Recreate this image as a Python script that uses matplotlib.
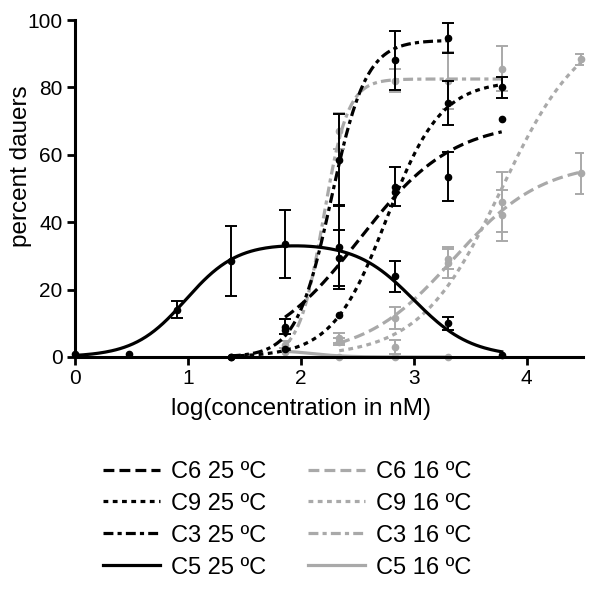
import numpy as np
import matplotlib
matplotlib.use('Agg')
import matplotlib.pyplot as plt

plt.rcParams['font.family'] = ['Liberation Sans', 'DejaVu Sans']

# log10 of concentration (nM) for each series
x_c6_25 = [1.86, 2.34, 2.83, 3.30, 3.78]
x_c9_25 = [1.38, 1.86, 2.34, 2.83, 3.30, 3.78]
x_c3_25 = [1.38, 1.86, 2.34, 2.83, 3.30]
x_c5_25 = [0.0, 0.48, 0.90, 1.38, 1.86, 2.34, 2.83, 3.30, 3.78]
x_c6_16 = [2.34, 2.83, 3.30, 3.78, 4.48]
x_c9_16 = [2.34, 2.83, 3.30, 3.78, 4.48]
x_c3_16 = [1.86, 2.34, 2.83, 3.30, 3.78]
x_c5_16 = [1.86, 2.34, 2.83, 3.30]

# percent dauers (mean) and error (0 = no bar)
y_c6_25 = [9.0, 29.4, 50.5, 53.5, 70.6]
e_c6_25 = [2.2, 8.3, 5.8, 7.3, 0]
y_c9_25 = [0.0, 2.5, 12.5, 49.0, 75.4, 80.0]
e_c9_25 = [0, 0, 0, 0, 6.5, 3.0]
y_c3_25 = [0.0, 8.0, 58.5, 88.0, 94.7]
e_c3_25 = [0, 0, 13.5, 8.7, 4.5]
y_c5_25 = [0.8, 1.0, 14.0, 28.5, 33.5, 32.6, 24.0, 10.0, 0.5]
e_c5_25 = [0, 0, 2.5, 10.5, 10.0, 12.3, 4.6, 2.0, 0]
y_c6_16 = [5.6, 11.5, 28.0, 42.0, 54.5]
e_c6_16 = [1.5, 3.2, 4.5, 7.5, 6.0]
y_c9_16 = [4.5, 3.0, 29.0, 46.0, 88.4]
e_c9_16 = [1.0, 2.0, 3.0, 9.0, 1.6]
y_c3_16 = [3.6, 67.0, 82.0, 82.0, 85.5]
e_c3_16 = [1.0, 5.4, 3.5, 8.5, 6.7]
y_c5_16 = [1.5, 0.0, 0.0, 0.0]
e_c5_16 = [0, 0, 0, 0]

# sigmoidal fit parameters: bottom, top, logEC50, hill
fit_c6_25 = (0, 70, 2.52, 1.05)
fit_c9_25 = (0, 82, 2.76, 1.8)
fit_c3_25 = (0, 94, 2.27, 2.8)
fit_c6_16 = (0, 58, 3.35, 1.1)
fit_c9_16 = (0, 100, 3.78, 1.2)
fit_c3_16 = (0, 82.5, 2.2, 4.0)
fit_c5_16 = (0, 2.0, 2.1, -3.0)
# bell shaped fit for C5 25: top, logEC50 up, hill up, logEC50 down, hill down
fit_c5_25 = (34, 0.98, 1.9, 3.0, 1.7)


def sigmoid(x, p):
    b, t, ec, h = p
    return b + (t - b) / (1 + 10 ** ((ec - x) * h))


def bell(x, p):
    t, ec1, h1, ec2, h2 = p
    return t / (1 + 10 ** ((ec1 - x) * h1)) / (1 + 10 ** ((x - ec2) * h2))


black = 'black'
grey = '#a9a9a9'
lw = 2.3
long_dash = (0, (3.4, 1.6))
short_dot = (0, (1.5, 1.4))
dash_dot = (0, (3.1, 1.3, 1.3, 1.3))

fig = plt.figure(figsize=(6.01, 5.90), dpi=100)
ax = fig.add_axes([0.125, 0.395, 0.845, 0.571])


def draw(xs, ys, es, fit, color, ls, label, bellfit=False, z=2):
    xs = np.array(xs)
    ys = np.array(ys)
    es = np.array(es)
    xx = np.linspace(xs.min(), xs.max(), 200)
    yy = bell(xx, fit) if bellfit else sigmoid(xx, fit)
    line, = ax.plot(xx, yy, color=color, ls=ls, lw=lw, label=label, zorder=z,
                    clip_on=False)
    ax.plot(xs, ys, 'o', color=color, ms=4.5, zorder=z + 0.5, clip_on=False)
    m = es > 0
    ax.errorbar(xs[m], ys[m], yerr=es[m], fmt='none', ecolor=color,
                elinewidth=1.4, capsize=4.3, capthick=1.4, zorder=z + 0.5)
    return line


h16 = [
    draw(x_c6_16, y_c6_16, e_c6_16, fit_c6_16, grey, long_dash, 'C6 16 \u00baC', z=2),
    draw(x_c9_16, y_c9_16, e_c9_16, fit_c9_16, grey, short_dot, 'C9 16 \u00baC', z=2),
    draw(x_c3_16, y_c3_16, e_c3_16, fit_c3_16, grey, dash_dot, 'C3 16 \u00baC', z=2),
    draw(x_c5_16, y_c5_16, e_c5_16, fit_c5_16, grey, '-', 'C5 16 \u00baC', z=2),
]
h25 = [
    draw(x_c6_25, y_c6_25, e_c6_25, fit_c6_25, black, long_dash, 'C6 25 \u00baC', z=4),
    draw(x_c9_25, y_c9_25, e_c9_25, fit_c9_25, black, short_dot, 'C9 25 \u00baC', z=4),
    draw(x_c3_25, y_c3_25, e_c3_25, fit_c3_25, black, dash_dot, 'C3 25 \u00baC', z=4),
    draw(x_c5_25, y_c5_25, e_c5_25, fit_c5_25, black, '-', 'C5 25 \u00baC', bellfit=True, z=4),
]

ax.set_xlim(0, 4.5)
ax.set_ylim(0, 100)
ax.set_xticks([0, 1, 2, 3, 4])
ax.set_yticks([0, 20, 40, 60, 80, 100])
for s in ['top', 'right']:
    ax.spines[s].set_visible(False)
for s in ['left', 'bottom']:
    ax.spines[s].set_linewidth(2.2)
ax.tick_params(direction='out', length=6, width=2, labelsize=15, pad=3)
ax.set_xlabel('log(concentration in nM)', fontsize=17.5, labelpad=7)
ax.set_ylabel('percent dauers', fontsize=17.5, labelpad=-3)
# labels sit centred on the 0-4 span / slightly above middle, as in the original
ax.xaxis.label.set_x(0.445)
ax.yaxis.label.set_y(0.567)

handles = h25 + h16
fig.legend(handles, [h.get_label() for h in handles], ncol=2,
           loc='upper left', bbox_to_anchor=(0.155, 0.235), frameon=False,
           fontsize=17, handlelength=2.45, handletextpad=0.45,
           columnspacing=1.75, labelspacing=0.42, borderaxespad=0)

fig.savefig('out.png', dpi=100)
